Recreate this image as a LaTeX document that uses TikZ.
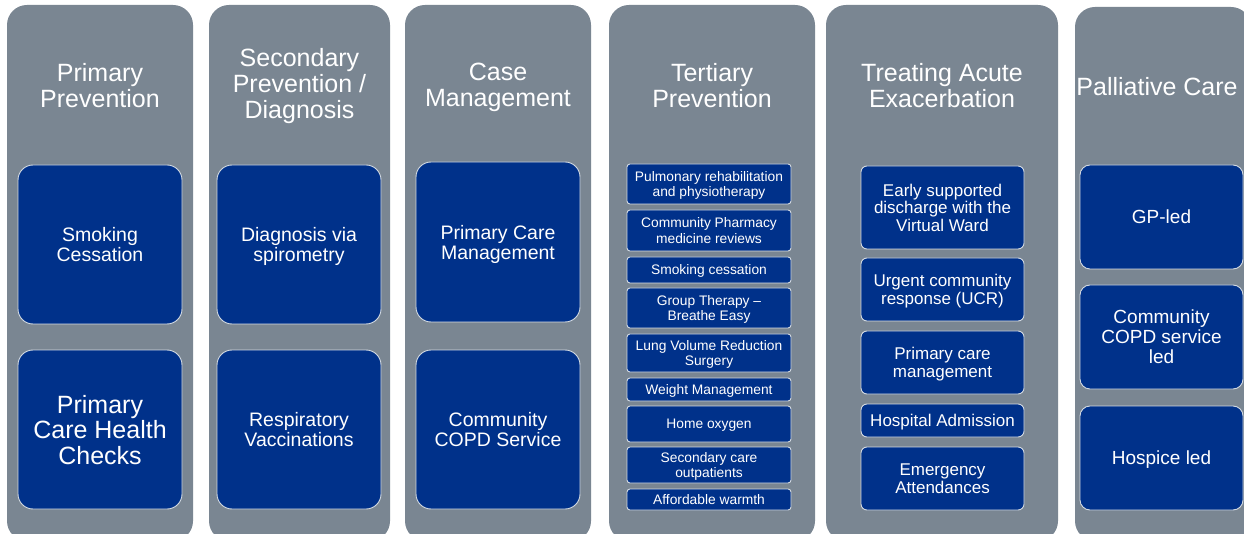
\documentclass[tikz,border=0pt]{standalone}
\usepackage{fontspec}
\setmainfont{Liberation Sans}
\definecolor{colgray}{HTML}{7A8692}
\definecolor{navy}{HTML}{00318A}
\definecolor{cardedge}{HTML}{D3DAE2}
\begin{document}
\begin{tikzpicture}[x=1pt,y=-1pt,
  column/.style={fill=colgray, draw=none, rounded corners=20pt, inner sep=0pt},
  heading/.style={text=white, align=center, inner sep=0pt, text depth=0pt, font=\fontsize{25}{26}\selectfont},
  card/.style={fill=navy, draw=cardedge, line width=0.9pt, text=white, align=center, inner sep=0pt, text depth=0pt},
  bigcard/.style={card, rounded corners=15pt, minimum width=164pt, minimum height=159pt, font=\fontsize{19.5}{20}\selectfont},
  tercard/.style={card, rounded corners=3pt, minimum width=164pt, font=\fontsize{13.8}{15.5}\selectfont},
  acutecard/.style={card, rounded corners=6pt, minimum width=163pt, font=\fontsize{17}{17.5}\selectfont},
  palcard/.style={card, rounded corners=10pt, minimum width=163pt, minimum height=104pt, font=\fontsize{19}{20}\selectfont}
]
\useasboundingbox (0,0) rectangle (1244,534);
\clip (0,0) rectangle (1244,534);

% grey column panels
\node[column, minimum width=186pt, minimum height=536pt] (c1) at (100,273) {};
\node[column, minimum width=181pt, minimum height=536pt] (c2) at (299.5,273) {};
\node[column, minimum width=186pt, minimum height=536pt] (c3) at (498,273) {};
\node[column, minimum width=206pt, minimum height=536pt] (c4) at (712,273) {};
\node[column, minimum width=232pt, minimum height=536pt] (c5) at (942,273) {};
\node[column, minimum width=176pt, minimum height=534pt] (c6) at (1163,274) {};

% column headings
\node[heading] (h1) at (100,85) {Primary\\Prevention};
\node[heading] (h2) at (299.5,83) {Secondary\\Prevention /\\Diagnosis};
\node[heading] (h3) at (498,85) {Case\\Management};
\node[heading] (h4) at (712,85) {Tertiary\\Prevention};
\node[heading] (h5) at (942,85) {Treating Acute\\Exacerbation};
\node[heading] (h6) at (1157,86) {Palliative Care};

% Primary Prevention
\node[bigcard] (p1) at (100,244.5) {Smoking\\Cessation};
\node[bigcard, font=\fontsize{25}{25.5}\selectfont] (p2) at (100,429.5) {Primary\\Care Health\\Checks};

% Secondary Prevention / Diagnosis
\node[bigcard] (s1) at (299,244.5) {Diagnosis via\\spirometry};
\node[bigcard] (s2) at (299,429.5) {Respiratory\\Vaccinations};

% Case Management
\node[bigcard, minimum height=160pt] (m1) at (498,242) {Primary Care\\Management};
\node[bigcard] (m2) at (498,429.5) {Community\\COPD Service};

% Tertiary Prevention
\node[tercard, minimum height=40pt] (t1) at (709,184) {Pulmonary rehabilitation\\and physiotherapy};
\node[tercard, minimum height=41pt] (t2) at (709,230.5) {Community Pharmacy\\medicine reviews};
\node[tercard, minimum height=26pt] (t3) at (709,270) {Smoking cessation};
\node[tercard, minimum height=40pt] (t4) at (709,308) {Group Therapy –\\Breathe Easy};
\node[tercard, minimum height=38pt] (t5) at (709,353) {Lung Volume Reduction\\Surgery};
\node[tercard, minimum height=23pt] (t6) at (709,389.5) {Weight Management};
\node[tercard, minimum height=36pt] (t7) at (709,424) {Home oxygen};
\node[tercard, minimum height=36pt] (t8) at (709,465) {Secondary care\\outpatients};
\node[tercard, minimum height=21pt] (t9) at (709,499.5) {Affordable warmth};

% Treating Acute Exacerbation
\node[acutecard, minimum height=83pt] (a1) at (942.5,207.5) {Early supported\\discharge with the\\Virtual Ward};
\node[acutecard, minimum height=63pt] (a2) at (942.5,289.5) {Urgent community\\response (UCR)};
\node[acutecard, minimum height=63pt] (a3) at (942.5,362.5) {Primary care\\management};
\node[acutecard, minimum height=33pt] (a4) at (942.5,420.5) {Hospital Admission};
\node[acutecard, minimum height=63pt] (a5) at (942.5,478.5) {Emergency\\Attendances};

% Palliative Care
\node[palcard] (l1) at (1161.5,217) {GP-led};
\node[palcard] (l2) at (1161.5,337) {Community\\COPD service\\led};
\node[palcard] (l3) at (1161.5,458) {Hospice led};
\end{tikzpicture}
\end{document}
